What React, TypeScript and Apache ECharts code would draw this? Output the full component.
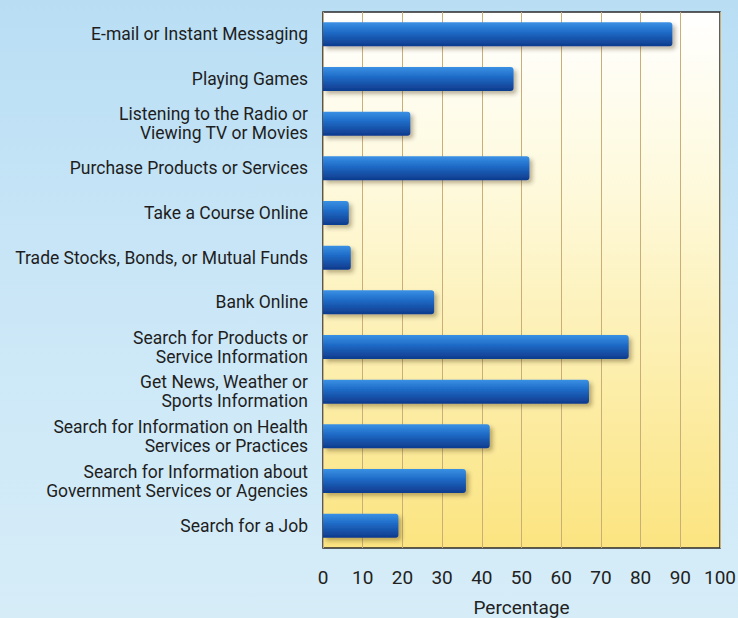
import React, { useEffect, useRef } from "react";
import * as echarts from "echarts";

const categories: string[] = [
  "E-mail or Instant Messaging",
  "Playing Games",
  "Listening to the Radio or\nViewing TV or Movies",
  "Purchase Products or Services",
  "Take a Course Online",
  "Trade Stocks, Bonds, or Mutual Funds",
  "Bank Online",
  "Search for Products or\nService Information",
  "Get News, Weather or\nSports Information",
  "Search for Information on Health\nServices or Practices",
  "Search for Information about\nGovernment Services or Agencies",
  "Search for a Job",
];

const percentages: number[] = [88, 48, 22, 52, 6.5, 7, 28, 77, 67, 42, 36, 19];

const xTicks: number[] = [0, 10, 20, 30, 40, 50, 60, 70, 80, 90, 100];

export default function App() {
  const ref = useRef<HTMLDivElement>(null);

  useEffect(() => {
    if (!ref.current) return;
    const chart = echarts.init(ref.current, undefined, { renderer: "svg" });
    chart.setOption({
      animation: false,
      backgroundColor: "transparent",
      grid: {
        left: 323,
        right: 18,
        top: 12,
        bottom: 70,
        containLabel: false,
        outerBoundsMode: "none",
        show: true,
        borderColor: "#2a2a2a",
        borderWidth: 1.5,
        backgroundColor: new echarts.graphic.LinearGradient(0, 0, 0, 1, [
          { offset: 0, color: "#ffffff" },
          { offset: 0.3, color: "#fefadf" },
          { offset: 1, color: "#fbe480" },
        ]),
      },
      xAxis: {
        type: "value",
        min: xTicks[0],
        max: xTicks[xTicks.length - 1],
        interval: 10,
        axisLine: { show: false },
        axisTick: { show: false },
        axisLabel: {
          color: "#222",
          fontFamily: "Roboto",
          fontSize: 19,
          margin: 20,
        },
        splitLine: {
          show: true,
          lineStyle: { color: "#c9ae78", width: 1 },
        },
        name: "Percentage",
        nameLocation: "middle",
        nameGap: 50,
        nameTextStyle: { color: "#222", fontFamily: "Roboto", fontSize: 19 },
      },
      yAxis: {
        type: "category",
        data: categories,
        inverse: true,
        axisLine: { show: false },
        axisTick: { show: false },
        splitLine: { show: false },
        axisLabel: {
          color: "#1e1e1e",
          fontFamily: "Roboto",
          fontSize: 17.5,
          lineHeight: 19,
          margin: 15,
          align: "right",
        },
      },
      series: [
        {
          type: "bar",
          data: percentages,
          barWidth: 24,
          itemStyle: {
            color: new echarts.graphic.LinearGradient(0, 0, 0, 1, [
              { offset: 0, color: "#3a91e4" },
              { offset: 0.4, color: "#1f6cc8" },
              { offset: 1, color: "#0e3a8c" },
            ]),
            borderRadius: [0, 3, 3, 0],
            shadowColor: "rgba(60,40,0,0.35)",
            shadowBlur: 4,
            shadowOffsetX: 3,
            shadowOffsetY: 3,
          },
        },
      ],
    });
    return () => chart.dispose();
  }, []);

  return (
    <div
      style={{
        position: "fixed",
        left: 0,
        top: 0,
        width: 738,
        height: 618,
        background: "linear-gradient(180deg, #b9def4 0%, #cbe7f7 50%, #d6edf8 100%)",
      }}
    >
      <div ref={ref} style={{ width: 738, height: 618 }} />
    </div>
  );
}
